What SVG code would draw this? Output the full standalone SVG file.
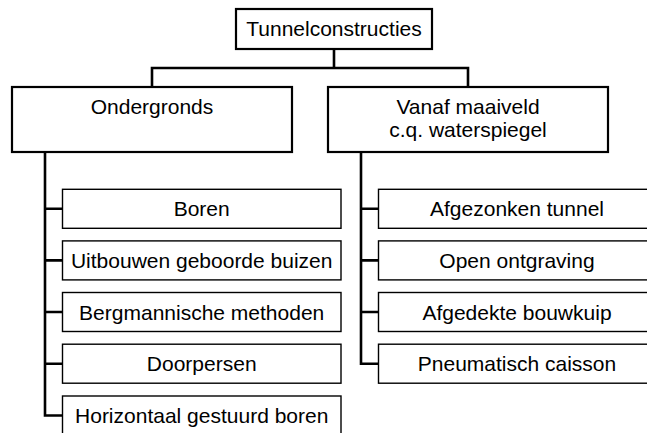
<svg xmlns="http://www.w3.org/2000/svg" width="647" height="433" viewBox="0 0 647 433">
<style>
.main{fill:#fff;stroke:#000;stroke-width:2.2}
.sub{fill:#fff;stroke:#000;stroke-width:1.4}
.con{fill:none;stroke:#000;stroke-width:2.6;stroke-linejoin:miter}
text{font-family:"Liberation Sans",Arial,sans-serif;font-size:21px;fill:#000;text-anchor:middle}
</style>
<rect width="647" height="433" fill="#fff"/>
<g id="connectors">
<path class="con" d="M334 49V68M152 87V68H468V87"/>
<path class="con" d="M45 152V415.5H62M45 208.8H62M45 260.4H62M45 312H62M45 363.7H62"/>
<path class="con" d="M361 152V363.7H378M361 208.8H378M361 260.4H378M361 312H378"/>
</g>
<g id="n-root"><rect class="main" x="236" y="9" width="196" height="40"/><text x="334" y="36">Tunnelconstructies</text></g>
<g id="n-ondergronds"><rect class="main" x="12" y="87" width="280" height="65"/><text x="152" y="114">Ondergronds</text></g>
<g id="n-vanaf"><rect class="main" x="328" y="87" width="280" height="65"/><text x="468" y="114">Vanaf maaiveld</text><text x="468" y="137">c.q. waterspiegel</text></g>
<g id="n-boren"><rect class="sub" x="62.5" y="189.3" width="278.5" height="39"/><text x="201.7" y="216.3">Boren</text></g>
<g id="n-uitbouwen"><rect class="sub" x="62.5" y="240.9" width="278.5" height="39"/><text x="201.7" y="267.9">Uitbouwen geboorde buizen</text></g>
<g id="n-bergmann"><rect class="sub" x="62.5" y="292.5" width="278.5" height="39"/><text x="201.7" y="319.5">Bergmannische methoden</text></g>
<g id="n-doorpersen"><rect class="sub" x="62.5" y="344.2" width="278.5" height="39"/><text x="201.7" y="371.2">Doorpersen</text></g>
<g id="n-horizontaal"><rect class="sub" x="62.5" y="396" width="278.5" height="45"/><text x="201.7" y="423">Horizontaal gestuurd boren</text></g>
<g id="n-afgezonken"><rect class="sub" x="378.5" y="189.3" width="277" height="39"/><text x="517" y="216.3">Afgezonken tunnel</text></g>
<g id="n-open"><rect class="sub" x="378.5" y="240.9" width="277" height="39"/><text x="517" y="267.9">Open ontgraving</text></g>
<g id="n-afgedekte"><rect class="sub" x="378.5" y="292.5" width="277" height="39"/><text x="517" y="319.5">Afgedekte bouwkuip</text></g>
<g id="n-pneumatisch"><rect class="sub" x="378.5" y="344.2" width="277" height="39"/><text x="517" y="371.2">Pneumatisch caisson</text></g>
</svg>
